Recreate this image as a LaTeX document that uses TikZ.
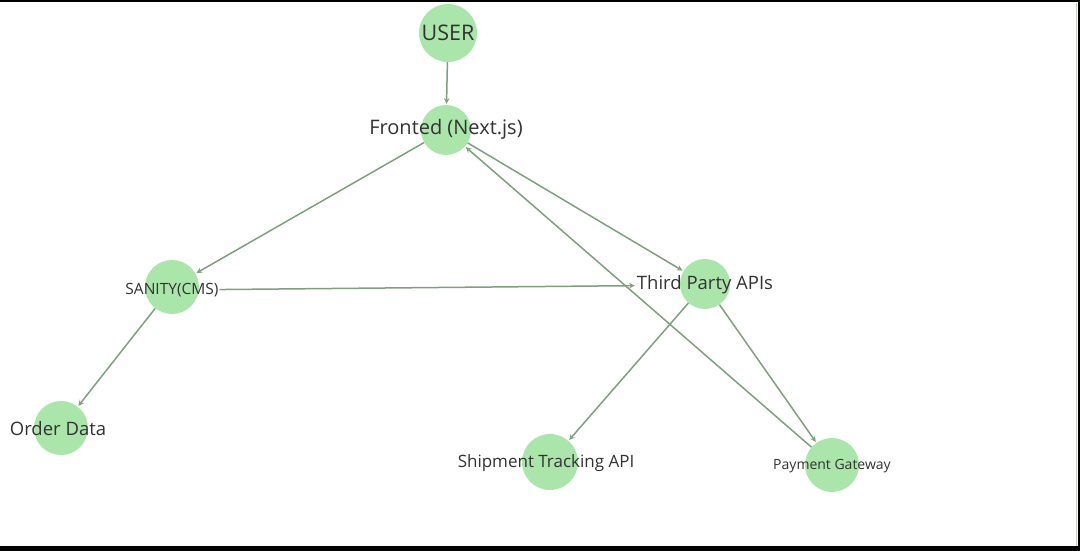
\documentclass[tikz,border=0pt]{standalone}
\usepackage{fontspec}
\setmainfont{Open Sans}
\usetikzlibrary{arrows}

\definecolor{nodegreen}{RGB}{170,230,170}
\definecolor{edgegreen}{RGB}{125,160,125}
\definecolor{labelgray}{RGB}{50,50,50}

\begin{document}
\begin{tikzpicture}
    [x=1pt, y=-1pt, >=stealth,
    vertex/.style = {circle, fill=nodegreen, inner sep=0pt, minimum size=54pt},
    tag/.style = {text=labelgray, inner sep=1pt},
    link/.style = {->, draw=edgegreen, line width=1.5pt, shorten >=1pt}]

  % screen frame
  \useasboundingbox (0,0) rectangle (1080,551);
  \fill[white] (0,0) rectangle (1080,551);
  \fill[black] (0,0) rectangle (1080,2);
  \fill[black] (1078,0) rectangle (1080,551);
  \fill[black] (0,546) rectangle (1080,551);
  \draw[edgegreen!50, line width=1pt] (1076,3) -- (1076,546);

  \node[vertex, minimum size=58pt] (user) at (448,33) {};
  \node[vertex, minimum size=50pt] (front) at (446,130) {};
  \node[vertex] (sanity) at (172,287) {};
  \node[vertex, minimum size=50pt] (third) at (705,284) {};
  \node[vertex] (order) at (61,428) {};
  \node[vertex, minimum size=56pt] (ship) at (550,462) {};
  \node[vertex] (pay) at (832,465) {};

  \draw[link] (user) -- (front);
  \draw[link] (front) -- (sanity);
  \draw[link] (front) -- (third);
  \draw[link] (sanity) -- (order);
  \draw[link] (third) -- (ship);
  \draw[link] (third) -- (pay);
  \draw[link] (pay) -- (front);

  \node[tag, font=\fontsize{21.5}{25}\selectfont] (user-l) at (448,33) {USER};
  \node[tag, font=\fontsize{20}{24}\selectfont] (front-l) at (446,129) {Fronted (Next.js)};
  \node[tag, font=\fontsize{15.5}{18}\selectfont] (sanity-l) at (172,290) {SANITY(CMS)};
  \node[tag, font=\fontsize{18.5}{22}\selectfont] (third-l) at (705,285) {Third Party APIs};
  \node[tag, font=\fontsize{18.5}{22}\selectfont] (order-l) at (58,429) {Order Data};
  \node[tag, font=\fontsize{17}{20}\selectfont] (ship-l) at (546,463) {Shipment Tracking API};
  \node[tag, font=\fontsize{14}{16}\selectfont] (pay-l) at (832,466) {Payment Gateway};

  \draw[link] (sanity-l) -- (third-l);

\end{tikzpicture}
\end{document}
